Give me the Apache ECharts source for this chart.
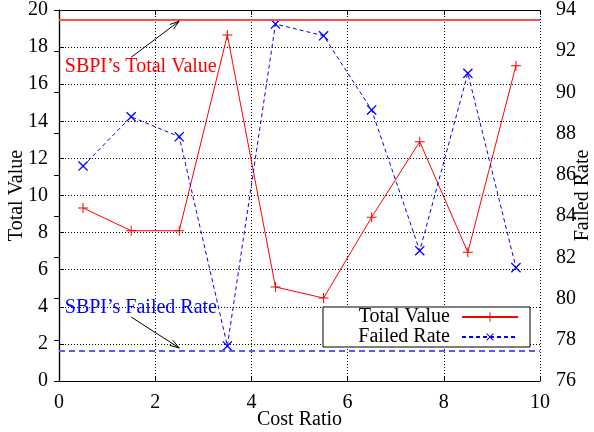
<!DOCTYPE html>
<html>
<head>
<meta charset="utf-8">
<script src="https://cdn.jsdelivr.net/npm/echarts@6/dist/echarts.min.js"></script>
<style>
  html, body { margin: 0; background: #fff; }
  #chart { width: 594px; height: 432px; }
</style>
</head>
<body>
<div id="chart"></div>
<script>
// data
const costRatio = [0.5, 1.5, 2.5, 3.5, 4.5, 5.5, 6.5, 7.5, 8.5, 9.5]
const totalValue = [9.33, 8.1, 8.1, 18.65, 5.07, 4.47, 8.83, 12.9, 6.94, 17.0]
const failedRate = [86.43, 88.82, 87.85, 77.7, 93.32, 92.75, 89.15, 82.32, 90.93, 81.5]
const sbpiTotalValue = 19.46
const sbpiFailedRate = 77.47

const FONT = 'Liberation Serif'
const FS = 20
const plusPath = 'path://M4.5,0H5.5V4.5H10V5.5H5.5V10H4.5V5.5H0V4.5H4.5Z'

const chart = echarts.init(document.getElementById('chart'))

const axisCommon = {
  axisLine: { lineStyle: { color: '#000', width: 1.2 } },
  axisTick: { inside: true, length: 5, lineStyle: { color: '#000' } },
  axisLabel: { color: '#000', fontFamily: FONT, fontSize: FS },
  nameTextStyle: { color: '#000', fontFamily: FONT, fontSize: FS },
  nameMoveOverlap: false,
}
const dotted = { show: true, lineStyle: { color: '#000', width: 1, type: [1, 2] } }

chart.setOption({
  animation: false,
  grid: { left: 59, right: 54, top: 10, bottom: 51, containLabel: false, outerBoundsMode: 'none' },
  xAxis: [
    {
      ...axisCommon,
      type: 'value', min: 0, max: 10, interval: 2,
      name: 'Cost Ratio', nameLocation: 'middle', nameGap: 29,
      axisLabel: { ...axisCommon.axisLabel, margin: 12 },
      splitLine: dotted,
    },
    {
      ...axisCommon,
      type: 'value', min: 0, max: 10, interval: 2, position: 'top',
      axisLabel: { show: false },
      splitLine: { show: false },
    }
  ],
  yAxis: [
    {
      ...axisCommon,
      type: 'value', min: 0, max: 20, interval: 2,
      name: 'Total Value', nameLocation: 'middle', nameGap: 32,
      axisLabel: { ...axisCommon.axisLabel, margin: 11 },
      splitLine: dotted,
    },
    {
      ...axisCommon,
      type: 'value', min: 76, max: 94, interval: 2, position: 'right',
      name: 'Failed Rate', nameLocation: 'middle', nameGap: 33,
      axisLabel: { ...axisCommon.axisLabel, margin: 16 },
      splitLine: { show: false },
    }
  ],
  legend: {
    orient: 'vertical',
    right: 64, top: 307,
    align: 'right',
    backgroundColor: '#fff',
    borderColor: '#000', borderWidth: 1, borderRadius: 0,
    padding: [0, 11, 0, 32],
    itemGap: 0,
    itemWidth: 56, itemHeight: 12,
    textStyle: { color: '#000', fontFamily: FONT, fontSize: FS, lineHeight: 20, width: 95, align: 'right', padding: [0, 7, 0, 0] },
    data: ['Total Value', 'Failed Rate'],
  },
  series: [
    {
      name: 'Total Value',
      type: 'line',
      xAxisIndex: 0, yAxisIndex: 0,
      data: costRatio.map((x, i) => [x, totalValue[i]]),
      symbol: plusPath, symbolSize: 10,
      itemStyle: { color: '#ff0000' },
      lineStyle: { color: '#ff0000', width: 1 },
      markLine: {
        silent: true, symbol: 'none', label: { show: false },
        lineStyle: { color: '#ff4d4d', width: 2, type: 'solid' },
        data: [{ yAxis: sbpiTotalValue }],
      },
      z: 3,
    },
    {
      name: 'Failed Rate',
      type: 'line',
      xAxisIndex: 0, yAxisIndex: 1,
      data: costRatio.map((x, i) => [x, failedRate[i]]),
      symbol: plusPath, symbolSize: 13, symbolRotate: 45,
      itemStyle: { color: '#0000ff' },
      lineStyle: { color: '#0000ff', width: 1, type: [4, 3] },
      markLine: {
        silent: true, symbol: 'none', label: { show: false },
        lineStyle: { color: '#5a5aff', width: 2, type: [6, 4] },
        data: [{ yAxis: sbpiFailedRate }],
      },
      z: 3,
    }
  ]
})

// annotations placed in data coordinates
function px(x, y) {
  return chart.convertToPixel({ xAxisIndex: 0, yAxisIndex: 0 }, [x, y])
}
function arrow(from, to) {
  const a = px(from[0], from[1])
  const b = px(to[0], to[1])
  const ang = Math.atan2(b[1] - a[1], b[0] - a[0])
  const len = 10, spread = 0.3
  const h1 = [b[0] - len * Math.cos(ang - spread), b[1] - len * Math.sin(ang - spread)]
  const h2 = [b[0] - len * Math.cos(ang + spread), b[1] - len * Math.sin(ang + spread)]
  return [
    { type: 'line', shape: { x1: a[0], y1: a[1], x2: b[0], y2: b[1] }, style: { stroke: '#000', lineWidth: 1 }, z: 10 },
    { type: 'polyline', shape: { points: [h1, b, h2] }, style: { stroke: '#000', lineWidth: 1, fill: null }, z: 10 },
  ]
}
const t1 = px(0.12, 16.93)
const t2 = px(0.12, 3.94)
chart.setOption({
  graphic: [
    { type: 'text', x: t1[0], y: t1[1], z: 10,
      style: { text: 'SBPI\u2019s Total Value', fill: '#ff0000', font: FS + 'px "Liberation Serif"', textVerticalAlign: 'middle' } },
    { type: 'text', x: t2[0], y: t2[1], z: 10,
      style: { text: 'SBPI\u2019s Failed Rate', fill: '#0000ff', font: FS + 'px "Liberation Serif"', textVerticalAlign: 'middle' } },
    ...arrow([1.5, 17.45], [2.5, 19.4]),
    ...arrow([1.5, 3.45], [2.5, 1.78]),
  ]
})
</script>
</body>
</html>
